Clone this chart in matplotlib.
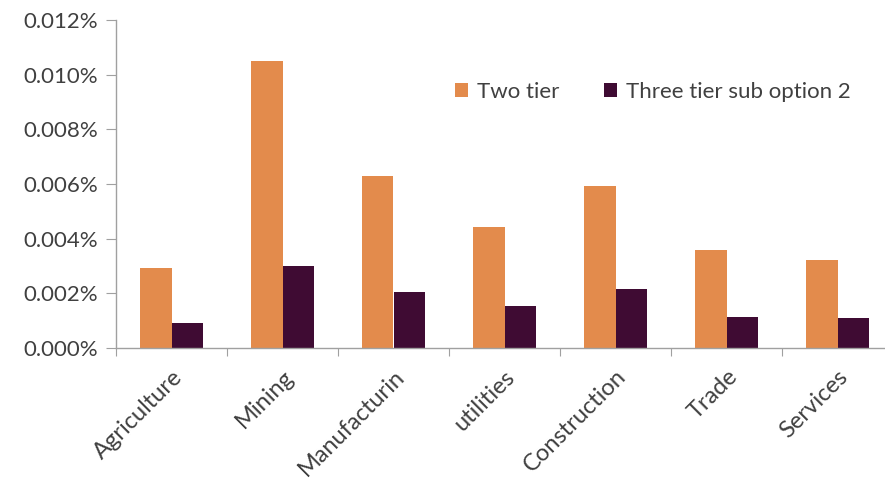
import numpy as np
import matplotlib
matplotlib.use('Agg')
import matplotlib.pyplot as plt
import matplotlib.ticker as ticker

sectors = ['Agriculture', 'Mining', 'Manufacturin', 'utilities', 'Construction', 'Trade', 'Services']
two_tier = [0.00294, 0.01049, 0.00628, 0.00444, 0.00594, 0.00357, 0.00322]
three_tier_sub2 = [0.00090, 0.00299, 0.00206, 0.00155, 0.00217, 0.00115, 0.00109]
series_names = ['Two tier', 'Three tier sub option 2']
colors = ['#E38B4C', '#3F0B33']


def main():
    plt.rcParams['font.family'] = ['Lato', 'DejaVu Sans']
    fig = plt.figure(figsize=(8.85, 4.83), dpi=100)
    ax = fig.add_axes([116 / 885, 1 - 348 / 483, 777 / 885, 328 / 483])

    x = np.arange(len(sectors))
    w = 0.28
    ax.bar(x - w / 2, two_tier, w, color=colors[0], label=series_names[0])
    ax.bar(x + w / 2, three_tier_sub2, w, color=colors[1], label=series_names[1])

    ax.set_xlim(-0.5, len(sectors) - 0.5)
    ax.set_ylim(0, 0.012)
    ax.yaxis.set_major_locator(ticker.MultipleLocator(0.002))
    ax.yaxis.set_major_formatter(ticker.FuncFormatter(lambda v, p: '{:.3f}%'.format(v)))

    # category ticks sit between groups, labels at the centres
    ax.set_xticks(np.arange(len(sectors) + 1) - 0.5)
    ax.set_xticklabels([])
    ax.set_xticks(x, minor=True)
    ax.set_xticklabels(sectors, minor=True, rotation=45, ha='right',
                       rotation_mode='anchor', fontsize=17, color='#404040')
    ax.tick_params(axis='x', which='minor', length=0, pad=13)
    ax.tick_params(axis='x', which='major', length=6, color='#A0A0A0')
    ax.tick_params(axis='y', length=7, color='#A0A0A0', labelsize=16,
                   labelcolor='#404040', pad=6)

    for s in ['top', 'right']:
        ax.spines[s].set_visible(False)
    for s in ['left', 'bottom']:
        ax.spines[s].set_color('#A0A0A0')
        ax.spines[s].set_linewidth(1.0)

    ax.legend(loc='center left', bbox_to_anchor=(0.436, 0.78), ncol=2, frameon=False,
              fontsize=16, handlelength=0.6, handleheight=0.6, handletextpad=0.4,
              columnspacing=2.0, labelcolor='#404040', borderaxespad=0, borderpad=0)

    fig.savefig('out.png', dpi=100)


if __name__ == '__main__':
    main()
